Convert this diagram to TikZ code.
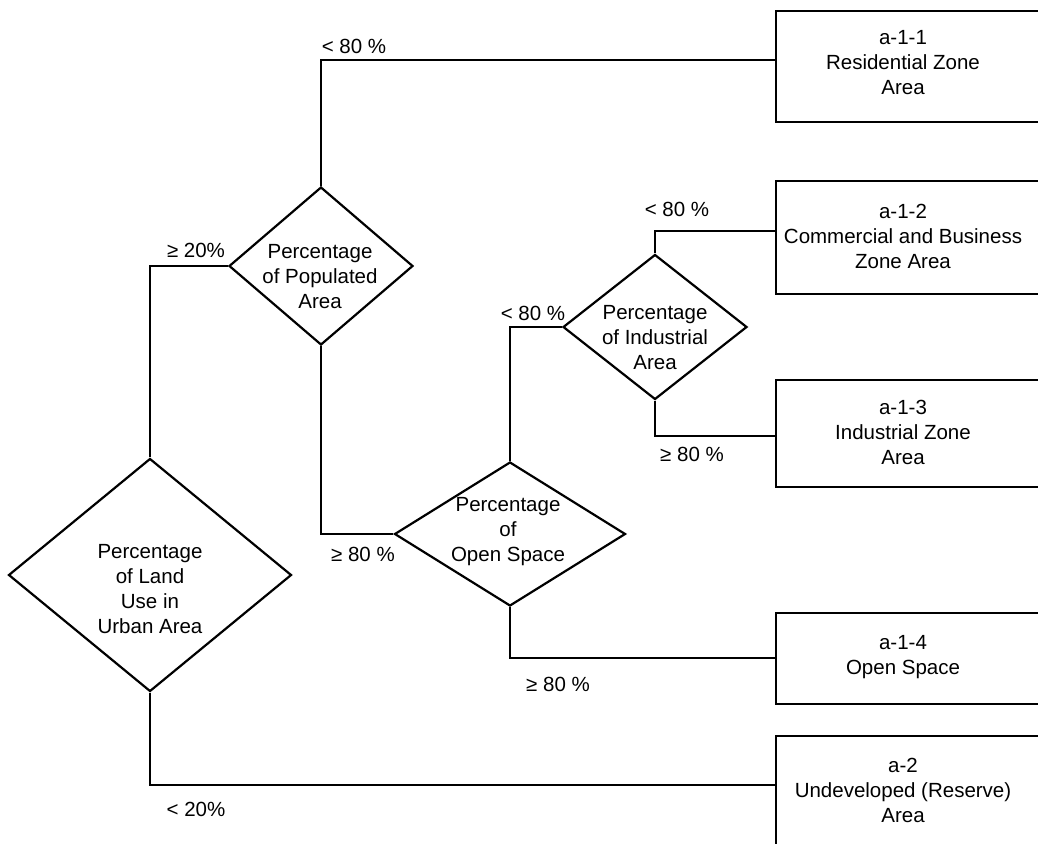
\documentclass[tikz,border=0pt]{standalone}
\usepackage{fontspec}
\setmainfont{Liberation Sans}
\usetikzlibrary{shapes.geometric,calc}
\begin{document}
\begin{tikzpicture}[x=1pt,y=-1pt,
  line width=2.2pt,
  every node/.style={font=\fontsize{20.5}{25}\selectfont, inner sep=0pt},
  cond/.style={draw, diamond, minimum width=#1},
  zone/.style={draw, rectangle, anchor=north west, minimum width=300pt},
  txt/.style={align=center},
  lbl/.style={align=center}
]
\clip (0,0) rectangle (1038,843);
\fill[white] (0,0) rectangle (1038,843);

% decision diamonds
\node[cond=283pt, minimum height=233pt] (d1) at (150,575) {};
\node[cond=184pt, minimum height=158pt] (d2) at (321,266) {};
\node[cond=231pt, minimum height=144pt] (d3) at (510,534) {};
\node[cond=184pt, minimum height=145pt] (d4) at (655,327) {};

\node[txt] (q1) at (150,589) {Percentage\\of Land\\Use in\\Urban Area};
\node[txt] (q2) at (320,277) {Percentage\\of Populated\\Area};
\node[txt] (q3) at (508,532) {Percentage\\of\\Open Space};
\node[txt] (q4) at (655,338) {Percentage\\of Industrial\\Area};

% outcome boxes (open to the right)
\node[zone, minimum height=111pt] (z1) at (775,10) {};
\node[zone, minimum height=113pt] (z2) at (775,180) {};
\node[zone, minimum height=107pt] (z3) at (775,379) {};
\node[zone, minimum height=91pt]  (z4) at (775,612) {};
\node[zone, minimum height=140pt] (z5) at (775,735) {};

\node[txt] (t1) at (903,63) {a-1-1\\Residential Zone\\Area};
\node[txt] (t2) at (903,236) {a-1-2\\Commercial and Business\\Zone Area};
\node[txt] (t3) at (903,432) {a-1-3\\Industrial Zone\\Area};
\node[txt] (t4) at (903,657) {a-1-4\\Open Space};
\node[txt] (t5) at (903,790) {a-2\\Undeveloped (Reserve)\\Area};

% connectors
\draw (d1.north) |- (d2.west);
\draw (d1.south) |- ($(z5.north west)+(0,50)$);
\draw (d2.north) |- ($(z1.north west)+(0,50)$);
\draw (d2.south) |- (d3.west);
\draw (d3.north) |- (d4.west);
\draw (d3.south) |- ($(z4.north west)+(0,46)$);
\draw (d4.north) |- ($(z2.north west)+(0,51)$);
\draw (d4.south) |- ($(z3.north west)+(0,57)$);

% branch labels
\node[lbl] (l1) at (196,250) {≥ 20\%};
\node[lbl] (l2) at (196,809) {< 20\%};
\node[lbl] (l3) at (354,46) {< 80 \%};
\node[lbl] (l4) at (363,554) {≥ 80 \%};
\node[lbl] (l5) at (533,313) {< 80 \%};
\node[lbl] (l6) at (677,209) {< 80 \%};
\node[lbl] (l7) at (692,454) {≥ 80 \%};
\node[lbl] (l8) at (558,684) {≥ 80 \%};
\end{tikzpicture}
\end{document}
